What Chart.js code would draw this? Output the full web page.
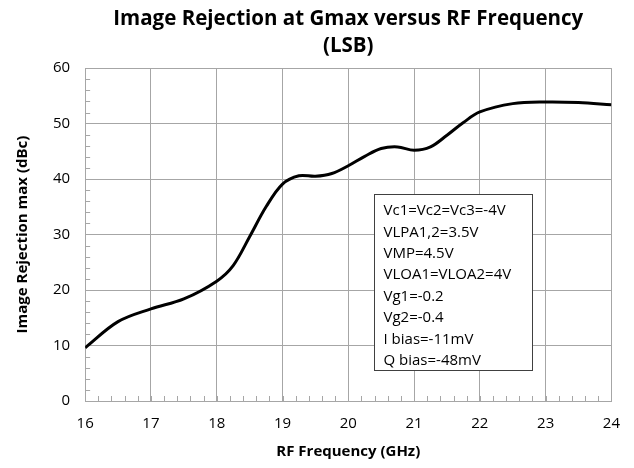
<!DOCTYPE html>
<html>
<head>
<meta charset="utf-8">
<script src="https://cdn.jsdelivr.net/npm/chart.js@4.4.0/dist/chart.umd.min.js"></script>
<style>
  html, body { margin: 0; padding: 0; background: #fff; }
  #wrap { width: 634px; height: 468px; }
</style>
</head>
<body>
<div id="wrap"><canvas id="chart" width="634" height="468"></canvas></div>
<script>
  // data
  const freqGHz = [16, 16.5, 17, 17.5, 18, 18.25, 18.5, 18.75, 19, 19.25, 19.5, 19.75, 20, 20.25, 20.5, 20.75, 21, 21.25, 21.5, 21.75, 22, 22.5, 23, 23.5, 24];
  const rejection = [9.6, 14.3, 16.6, 18.4, 21.6, 24.4, 29.6, 35.0, 39.1, 40.6, 40.5, 41.0, 42.4, 44.1, 45.5, 45.8, 45.2, 45.8, 47.9, 50.2, 52.1, 53.6, 53.9, 53.8, 53.4];
  const xTicks = [16, 17, 18, 19, 20, 21, 22, 23, 24];
  const yTicks = [0, 10, 20, 30, 40, 50, 60];
  const noteLines = ['Vc1=Vc2=Vc3=-4V', 'VLPA1,2=3.5V', 'VMP=4.5V', 'VLOA1=VLOA2=4V', 'Vg1=-0.2', 'Vg2=-0.4', 'I bias=-11mV', 'Q bias=-48mV'];

  const FONT = '"Open Sans", "Liberation Sans", sans-serif';
  const GRID = '#a6a6a6';

  // minor ticks + parameter box
  const extras = {
    id: 'extras',
    afterDatasetsDraw(chart) {
      const { ctx, chartArea: a, scales: { x, y } } = chart;
      ctx.save();
      ctx.strokeStyle = GRID;
      ctx.lineWidth = 1;
      ctx.beginPath();
      for (let v = 16.2; v < 24; v += 0.2) {
        const px = Math.round(x.getPixelForValue(v)) + 0.5;
        ctx.moveTo(px, a.bottom);
        ctx.lineTo(px, a.bottom - 5);
      }
      for (let v = 2; v < 60; v += 2) {
        if (v % 10 === 0) continue;
        const py = Math.round(y.getPixelForValue(v)) + 0.5;
        ctx.moveTo(a.left, py);
        ctx.lineTo(a.left + 5, py);
      }
      ctx.stroke();

      // parameter box
      const bx = Math.round(x.getPixelForValue(20.39)) + 0.5;
      const bx2 = Math.round(x.getPixelForValue(22.8)) + 0.5;
      const by = Math.round(y.getPixelForValue(37.4)) + 0.5;
      const by2 = Math.round(y.getPixelForValue(5.5)) + 0.5;
      ctx.fillStyle = '#fff';
      ctx.fillRect(bx, by, bx2 - bx, by2 - by);
      ctx.strokeStyle = '#404040';
      ctx.strokeRect(bx, by, bx2 - bx, by2 - by);
      ctx.fillStyle = '#000';
      ctx.font = '15px ' + FONT;
      ctx.textBaseline = 'middle';
      noteLines.forEach((t, i) => {
        ctx.fillText(t, bx + 9, by + 16.5 + i * 21.4);
      });
      ctx.restore();
    }
  };

  new Chart(document.getElementById('chart'), {
    type: 'scatter',
    data: {
      datasets: [{
        data: freqGHz.map((f, i) => ({ x: f, y: rejection[i] })),
        showLine: true,
        borderColor: '#000',
        borderWidth: 3,
        pointRadius: 0,
        tension: 0.35
      }]
    },
    options: {
      responsive: false,
      animation: false,
      layout: { padding: { left: 10, right: 17, top: 4, bottom: 3 } },
      plugins: {
        legend: { display: false },
        tooltip: { enabled: false },
        title: {
          display: true,
          fullSize: false,
          text: ['Image Rejection at Gmax versus RF Frequency', '(LSB)'],
          color: '#000',
          font: { family: FONT, size: 20.5, weight: 'bold', lineHeight: 1.32 },
          padding: { top: 2, bottom: 8 }
        }
      },
      scales: {
        x: {
          type: 'linear',
          min: 16, max: 24,
          afterBuildTicks: s => { s.ticks = xTicks.map(v => ({ value: v })); },
          grid: { color: GRID, drawTicks: false },
          border: { color: GRID },
          ticks: { color: '#000', font: { family: FONT, size: 15 }, padding: 14 },
          title: { display: true, text: 'RF Frequency (GHz)', color: '#000', font: { family: FONT, size: 15, weight: 'bold' }, padding: { top: -4 } }
        },
        y: {
          min: 0, max: 60,
          afterBuildTicks: s => { s.ticks = yTicks.map(v => ({ value: v })); },
          grid: { color: GRID, drawTicks: false },
          border: { color: GRID },
          ticks: { color: '#000', font: { family: FONT, size: 15 }, padding: 15 },
          title: { display: true, text: 'Image Rejection max (dBc)', color: '#000', font: { family: FONT, size: 15, weight: 'bold' }, padding: { bottom: 6 } }
        }
      }
    },
    plugins: [extras]
  });
</script>
</body>
</html>
